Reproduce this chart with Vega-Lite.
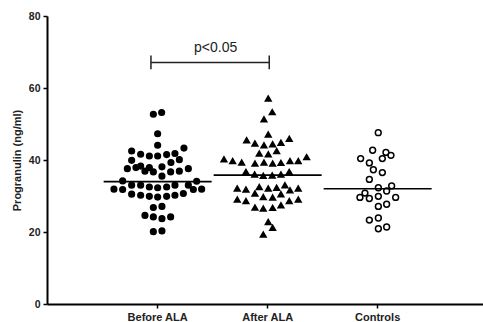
{
  "$schema": "https://vega.github.io/schema/vega-lite/v6.json",
  "width": 436,
  "height": 288,
  "autosize": {"type": "none"},
  "padding": {"left": 47, "top": 16, "right": 0, "bottom": 18},
  "config": {
    "view": {"stroke": null},
    "font": "Liberation Sans",
    "axisX": {
      "domainColor": "#000", "domainWidth": 2, "tickColor": "#000", "tickWidth": 1.5, "tickSize": 4,
      "labelFont": "Liberation Sans", "labelFontWeight": "bold", "labelFontSize": 11, "labelColor": "#222",
      "labelPadding": 3, "labelAngle": 0, "bandPosition": 0.5, "grid": false
    },
    "axisY": {
      "domainColor": "#000", "domainWidth": 2, "tickColor": "#000", "tickWidth": 1.5, "tickSize": 4,
      "labelFont": "Liberation Sans", "labelFontWeight": "bold", "labelFontSize": 10.5, "labelColor": "#222",
      "labelPadding": 3, "grid": false,
      "titleFont": "Liberation Sans", "titleFontWeight": "bold", "titleFontSize": 11, "titleColor": "#222",
      "titleX": -29.5, "titleY": 144, "titleBaseline": "middle", "titleAngle": -90
    }
  },
  "datasets": {
    "points": [
      {"group": "Before ALA", "jitter": -4.3, "value": 52.7},
      {"group": "Before ALA", "jitter": 4.0, "value": 53.2},
      {"group": "Before ALA", "jitter": 0, "value": 47.3},
      {"group": "Before ALA", "jitter": 0, "value": 44.1},
      {"group": "Before ALA", "jitter": -26, "value": 42.5},
      {"group": "Before ALA", "jitter": 26.3, "value": 43.3},
      {"group": "Before ALA", "jitter": -17, "value": 41.6},
      {"group": "Before ALA", "jitter": -8.3, "value": 41.1},
      {"group": "Before ALA", "jitter": 0, "value": 41.1},
      {"group": "Before ALA", "jitter": 9, "value": 41.5},
      {"group": "Before ALA", "jitter": 17.3, "value": 41.8},
      {"group": "Before ALA", "jitter": -26, "value": 39.9},
      {"group": "Before ALA", "jitter": 21.7, "value": 40.1},
      {"group": "Before ALA", "jitter": 13.3, "value": 39.3},
      {"group": "Before ALA", "jitter": -30.3, "value": 37.6},
      {"group": "Before ALA", "jitter": -21.7, "value": 37.9},
      {"group": "Before ALA", "jitter": -17, "value": 38.3},
      {"group": "Before ALA", "jitter": -8.3, "value": 37.9},
      {"group": "Before ALA", "jitter": 4.3, "value": 38.1},
      {"group": "Before ALA", "jitter": 30.7, "value": 37.6},
      {"group": "Before ALA", "jitter": -12.7, "value": 36.9},
      {"group": "Before ALA", "jitter": -4.3, "value": 36.7},
      {"group": "Before ALA", "jitter": 13, "value": 36.7},
      {"group": "Before ALA", "jitter": 21.7, "value": 36.9},
      {"group": "Before ALA", "jitter": 4.3, "value": 35.5},
      {"group": "Before ALA", "jitter": -35, "value": 34.2},
      {"group": "Before ALA", "jitter": 39, "value": 34.1},
      {"group": "Before ALA", "jitter": -26, "value": 33.0},
      {"group": "Before ALA", "jitter": -17, "value": 33.0},
      {"group": "Before ALA", "jitter": -8.3, "value": 32.5},
      {"group": "Before ALA", "jitter": 0, "value": 32.3},
      {"group": "Before ALA", "jitter": 9, "value": 32.5},
      {"group": "Before ALA", "jitter": 17.3, "value": 33.0},
      {"group": "Before ALA", "jitter": 30.7, "value": 33.0},
      {"group": "Before ALA", "jitter": -43.7, "value": 31.9},
      {"group": "Before ALA", "jitter": -35, "value": 31.8},
      {"group": "Before ALA", "jitter": 35.7, "value": 31.8},
      {"group": "Before ALA", "jitter": 44, "value": 31.9},
      {"group": "Before ALA", "jitter": -26, "value": 30.5},
      {"group": "Before ALA", "jitter": -17, "value": 30.2},
      {"group": "Before ALA", "jitter": -8.3, "value": 29.9},
      {"group": "Before ALA", "jitter": 0, "value": 29.7},
      {"group": "Before ALA", "jitter": 9, "value": 29.9},
      {"group": "Before ALA", "jitter": 17.3, "value": 30.2},
      {"group": "Before ALA", "jitter": 25.7, "value": 30.7},
      {"group": "Before ALA", "jitter": -4.3, "value": 26.8},
      {"group": "Before ALA", "jitter": 4.3, "value": 27.1},
      {"group": "Before ALA", "jitter": -12.7, "value": 24.6},
      {"group": "Before ALA", "jitter": -4.3, "value": 24.2},
      {"group": "Before ALA", "jitter": 4.3, "value": 23.7},
      {"group": "Before ALA", "jitter": 13, "value": 24.2},
      {"group": "Before ALA", "jitter": -4.3, "value": 20.1},
      {"group": "Before ALA", "jitter": 4.3, "value": 20.3},
      {"group": "After ALA", "jitter": 0.6, "value": 57.1},
      {"group": "After ALA", "jitter": 4.6, "value": 53.3},
      {"group": "After ALA", "jitter": -3.7, "value": 51.3},
      {"group": "After ALA", "jitter": 0.6, "value": 47.1},
      {"group": "After ALA", "jitter": -21, "value": 45.5},
      {"group": "After ALA", "jitter": 21.6, "value": 45.9},
      {"group": "After ALA", "jitter": -12.7, "value": 44.6},
      {"group": "After ALA", "jitter": -3.7, "value": 44.1},
      {"group": "After ALA", "jitter": 5, "value": 44.4},
      {"group": "After ALA", "jitter": 13.3, "value": 44.8},
      {"group": "After ALA", "jitter": -8.4, "value": 41.8},
      {"group": "After ALA", "jitter": 0.6, "value": 41.6},
      {"group": "After ALA", "jitter": 9, "value": 42.5},
      {"group": "After ALA", "jitter": -43.7, "value": 40.2},
      {"group": "After ALA", "jitter": -35, "value": 39.7},
      {"group": "After ALA", "jitter": -26, "value": 39.3},
      {"group": "After ALA", "jitter": -12.7, "value": 39.0},
      {"group": "After ALA", "jitter": -3.7, "value": 39.3},
      {"group": "After ALA", "jitter": 5, "value": 39.0},
      {"group": "After ALA", "jitter": 13.3, "value": 39.2},
      {"group": "After ALA", "jitter": 22.3, "value": 39.7},
      {"group": "After ALA", "jitter": 30.6, "value": 39.7},
      {"group": "After ALA", "jitter": 39, "value": 40.8},
      {"group": "After ALA", "jitter": -21.7, "value": 36.7},
      {"group": "After ALA", "jitter": -13, "value": 36.0},
      {"group": "After ALA", "jitter": -4.4, "value": 35.6},
      {"group": "After ALA", "jitter": 4.6, "value": 35.7},
      {"group": "After ALA", "jitter": 13.3, "value": 36.0},
      {"group": "After ALA", "jitter": 21.6, "value": 36.7},
      {"group": "After ALA", "jitter": -30.4, "value": 32.1},
      {"group": "After ALA", "jitter": -21.7, "value": 31.8},
      {"group": "After ALA", "jitter": -8.4, "value": 32.5},
      {"group": "After ALA", "jitter": 0.6, "value": 32.1},
      {"group": "After ALA", "jitter": 9, "value": 32.3},
      {"group": "After ALA", "jitter": 17.3, "value": 33.0},
      {"group": "After ALA", "jitter": 22.3, "value": 31.6},
      {"group": "After ALA", "jitter": 30.6, "value": 32.1},
      {"group": "After ALA", "jitter": -12.7, "value": 30.7},
      {"group": "After ALA", "jitter": -4.4, "value": 29.7},
      {"group": "After ALA", "jitter": 5, "value": 29.6},
      {"group": "After ALA", "jitter": 13.3, "value": 30.5},
      {"group": "After ALA", "jitter": -30.4, "value": 29.0},
      {"group": "After ALA", "jitter": -21.7, "value": 28.6},
      {"group": "After ALA", "jitter": 21.6, "value": 28.6},
      {"group": "After ALA", "jitter": 30.6, "value": 29.0},
      {"group": "After ALA", "jitter": -12.7, "value": 26.8},
      {"group": "After ALA", "jitter": -4.4, "value": 26.5},
      {"group": "After ALA", "jitter": 5, "value": 26.7},
      {"group": "After ALA", "jitter": 13.3, "value": 27.4},
      {"group": "After ALA", "jitter": 0.6, "value": 22.8},
      {"group": "After ALA", "jitter": 5, "value": 21.2},
      {"group": "After ALA", "jitter": -4.4, "value": 19.3},
      {"group": "Controls", "jitter": 0.6, "value": 47.6},
      {"group": "Controls", "jitter": -5, "value": 42.7},
      {"group": "Controls", "jitter": 8.3, "value": 42.1},
      {"group": "Controls", "jitter": 13.3, "value": 41.3},
      {"group": "Controls", "jitter": -17, "value": 40.4},
      {"group": "Controls", "jitter": 4.7, "value": 40.4},
      {"group": "Controls", "jitter": -8.3, "value": 39.2},
      {"group": "Controls", "jitter": -4.3, "value": 37.3},
      {"group": "Controls", "jitter": 4.7, "value": 36.5},
      {"group": "Controls", "jitter": -8.3, "value": 34.6},
      {"group": "Controls", "jitter": 0.7, "value": 32.3},
      {"group": "Controls", "jitter": 14, "value": 32.8},
      {"group": "Controls", "jitter": 9, "value": 31.4},
      {"group": "Controls", "jitter": -12.7, "value": 30.8},
      {"group": "Controls", "jitter": -17.7, "value": 29.6},
      {"group": "Controls", "jitter": -8.3, "value": 29.3},
      {"group": "Controls", "jitter": 0.7, "value": 29.9},
      {"group": "Controls", "jitter": 18, "value": 29.6},
      {"group": "Controls", "jitter": 0.7, "value": 27.1},
      {"group": "Controls", "jitter": 9, "value": 27.7},
      {"group": "Controls", "jitter": -8.3, "value": 23.3},
      {"group": "Controls", "jitter": 0.7, "value": 23.9},
      {"group": "Controls", "jitter": 0.7, "value": 20.9},
      {"group": "Controls", "jitter": 9, "value": 21.4}
    ],
    "medians": [
      {"group": "Before ALA", "median": 34.0},
      {"group": "After ALA", "median": 35.8},
      {"group": "Controls", "median": 32.0}
    ],
    "bracket": [
      {"from": "Before ALA", "to": "After ALA", "y": 67.1, "lo": 65.2, "hi": 69.0, "labelY": 70.0, "label": "p<0.05"}
    ]
  },
  "layer": [
    {
      "data": {"name": "points"},
      "mark": {"type": "point", "filled": true, "stroke": "#000", "strokeWidth": 1.5, "opacity": 1},
      "encoding": {
        "x": {"field": "group", "type": "nominal", "sort": null,
              "scale": {"type": "band", "domain": ["Before ALA", "After ALA", "Controls"], "paddingInner": 0, "paddingOuter": 0.4818, "align": 0.525},
              "axis": {"title": null}},
        "xOffset": {"field": "jitter", "type": "quantitative", "scale": {"domain": [-55, 55]}},
        "y": {"field": "value", "type": "quantitative", "scale": {"domain": [0, 80], "nice": false}, "axis": {"title": "Progranulin (ng/ml)", "tickCount": 4}},
        "shape": {"field": "group", "type": "nominal", "scale": {"domain": ["Before ALA", "After ALA", "Controls"], "range": ["circle", "triangle-up", "circle"]}, "legend": null},
        "fill": {"field": "group", "type": "nominal", "scale": {"domain": ["Before ALA", "After ALA", "Controls"], "range": ["#000", "#000", "#fff"]}, "legend": null},
        "size": {"field": "group", "type": "nominal", "scale": {"domain": ["Before ALA", "After ALA", "Controls"], "range": [32, 34, 30]}, "legend": null}
      }
    },
    {
      "data": {"name": "medians"},
      "mark": {"type": "tick", "color": "#000", "size": 108, "thickness": 1.6, "opacity": 1},
      "encoding": {
        "x": {"field": "group", "type": "nominal", "sort": null, "axis": {"title": null}},
        "y": {"field": "median", "type": "quantitative", "axis": {"title": "Progranulin (ng/ml)", "tickCount": 4}}
      }
    },
    {
      "data": {"name": "bracket"},
      "mark": {"type": "rule", "color": "#222", "strokeWidth": 1.5, "xOffset": -6.7, "x2Offset": 1.6},
      "encoding": {
        "x": {"field": "from", "type": "nominal", "sort": null, "axis": {"title": null}},
        "x2": {"field": "to"},
        "y": {"field": "y", "type": "quantitative", "axis": {"title": "Progranulin (ng/ml)", "tickCount": 4}}
      }
    },
    {
      "data": {"name": "bracket"},
      "mark": {"type": "rule", "color": "#222", "strokeWidth": 1.5, "xOffset": -6.7},
      "encoding": {
        "x": {"field": "from", "type": "nominal", "sort": null, "axis": {"title": null}},
        "y": {"field": "lo", "type": "quantitative", "axis": {"title": "Progranulin (ng/ml)", "tickCount": 4}},
        "y2": {"field": "hi"}
      }
    },
    {
      "data": {"name": "bracket"},
      "mark": {"type": "rule", "color": "#222", "strokeWidth": 1.5, "xOffset": 1.6},
      "encoding": {
        "x": {"field": "to", "type": "nominal", "sort": null, "axis": {"title": null}},
        "y": {"field": "lo", "type": "quantitative", "axis": {"title": "Progranulin (ng/ml)", "tickCount": 4}},
        "y2": {"field": "hi"}
      }
    },
    {
      "data": {"name": "bracket"},
      "mark": {"type": "text", "font": "Liberation Sans", "fontSize": 14, "color": "#222", "align": "center", "baseline": "alphabetic", "dx": 58},
      "encoding": {
        "x": {"field": "from", "type": "nominal", "sort": null, "axis": {"title": null}},
        "y": {"field": "labelY", "type": "quantitative", "axis": {"title": "Progranulin (ng/ml)", "tickCount": 4}},
        "text": {"field": "label"}
      }
    }
  ]
}
